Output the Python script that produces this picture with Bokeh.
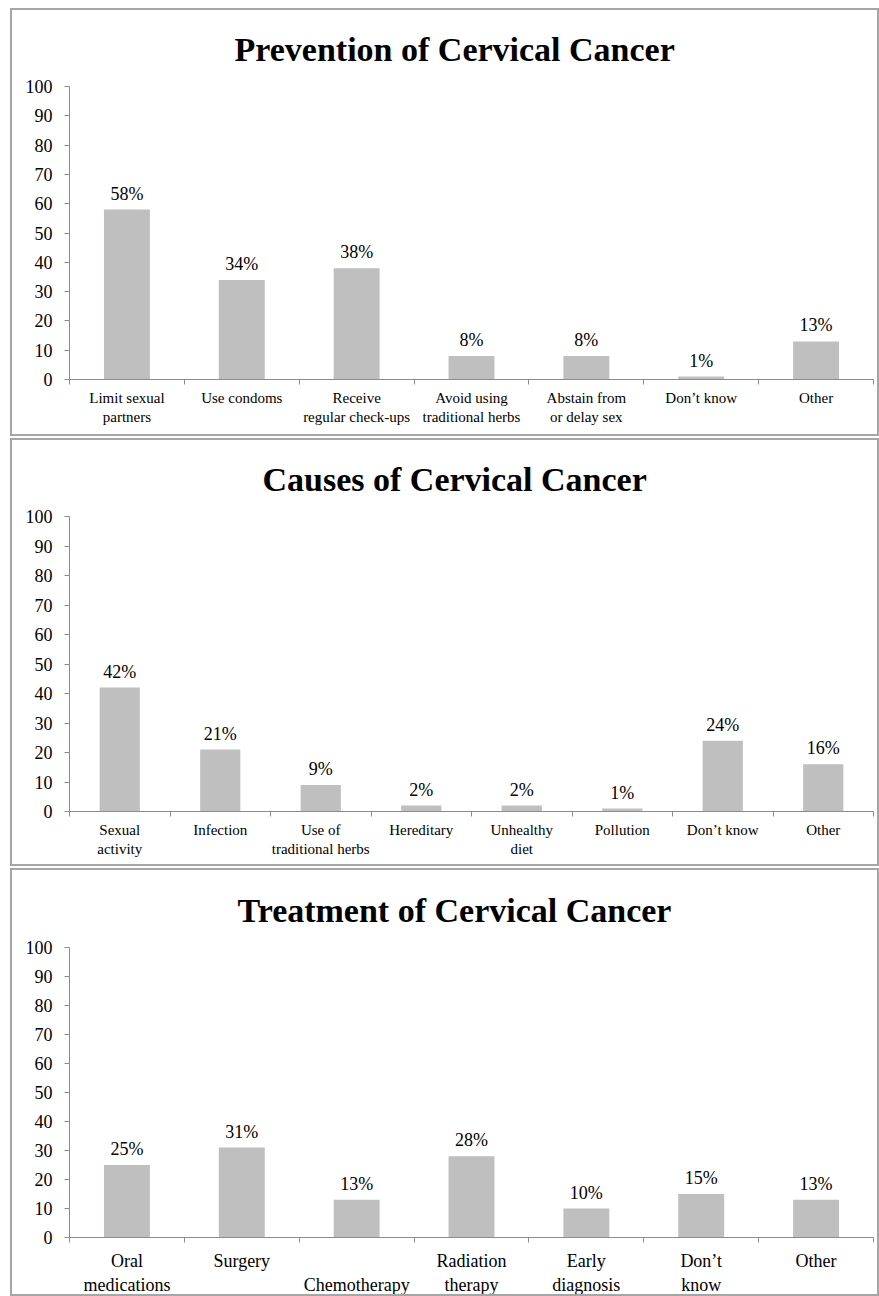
from bokeh.plotting import figure
from bokeh.models import ColumnDataSource, FixedTicker, LabelSet, Range1d
from bokeh.layouts import column
from bokeh.core.properties import value
from bokeh.embed import file_html
from bokeh.resources import INLINE

# ---------------- data ----------------
prev_title = "Prevention of Cervical Cancer"
prev_categories = ["Limit sexual\npartners", "Use condoms", "Receive\nregular check-ups",
                   "Avoid using\ntraditional herbs", "Abstain from\nor delay sex", "Don\u2019t know", "Other"]
prev_values = [58, 34, 38, 8, 8, 1, 13]

cause_title = "Causes of Cervical Cancer"
cause_categories = ["Sexual\nactivity", "Infection", "Use of\ntraditional herbs", "Hereditary",
                    "Unhealthy\ndiet", "Pollution", "Don\u2019t know", "Other"]
cause_values = [42, 21, 9, 2, 2, 1, 24, 16]

treat_title = "Treatment of Cervical Cancer"
treat_categories = ["Oral\nmedications", "Surgery", "\nChemotherapy", "Radiation\ntherapy",
                    "Early\ndiagnosis", "Don\u2019t\nknow", "Other"]
treat_values = [25, 31, 13, 28, 10, 15, 13]

y_ticks = [0, 10, 20, 30, 40, 50, 60, 70, 80, 90, 100]

# ---------------- style ----------------
SERIF = "Liberation Serif"
AXIS = "#8c8c8c"
BAR = "#bfbfbf"
BORDER = "2px solid #a6a6a6"


def make_panel(title, cats, vals, cat_font, cat_standoff, title_offset, height, top, bottom, margin):
    n = len(cats)
    xs = list(range(n))
    src = ColumnDataSource(dict(
        x=xs,
        top=vals,
        lab=[f"{v}%" for v in vals],
    ))
    p = figure(width=869, height=height, x_range=Range1d(-0.5, n - 0.5), y_range=Range1d(0, 100),
               output_backend="svg", toolbar_location=None, title=title,
               min_border_left=57, min_border_right=8, min_border_top=top,
               min_border_bottom=bottom, margin=margin)
    p.styles = {"border": BORDER}
    p.outline_line_color = None
    p.grid.visible = False
    p.background_fill_color = "white"
    p.border_fill_color = "white"

    p.title.text_font = SERIF
    p.title.text_font_size = "34px"
    p.title.text_font_style = "bold"
    p.title.text_color = "black"
    p.title.text_line_height = 0.6
    p.title.align = "left"
    p.title.offset = title_offset
    p.title.standoff = 37

    p.vbar(x="x", top="top", width=0.4, source=src, fill_color=BAR, line_color=None)

    # x axis: labels at category centres, separator ticks at category boundaries
    p.xaxis.ticker = FixedTicker(ticks=xs, minor_ticks=[i - 0.5 for i in range(n + 1)])
    p.xaxis.major_label_overrides = {i: c for i, c in enumerate(cats)}
    p.xaxis.major_label_text_font = SERIF
    p.xaxis.major_label_text_font_size = cat_font
    p.xaxis.major_label_text_color = "black"
    p.xaxis.major_label_standoff = cat_standoff
    p.xaxis.axis_line_color = AXIS
    p.xaxis.major_tick_line_color = None
    p.xaxis.major_tick_in = 0
    p.xaxis.major_tick_out = 0
    p.xaxis.minor_tick_line_color = AXIS
    p.xaxis.minor_tick_in = 0
    p.xaxis.minor_tick_out = 5

    p.yaxis.ticker = FixedTicker(ticks=y_ticks)
    p.yaxis.axis_line_color = AXIS
    p.yaxis.major_tick_line_color = AXIS
    p.yaxis.major_tick_in = 0
    p.yaxis.major_tick_out = 5
    p.yaxis.minor_tick_line_color = None
    p.yaxis.major_label_text_font = SERIF
    p.yaxis.major_label_text_font_size = "18px"
    p.yaxis.major_label_text_color = "black"
    p.yaxis.major_label_standoff = 12

    p.add_layout(LabelSet(x="x", y="top", text="lab", source=src, y_offset=6,
                          text_align="center", text_baseline="bottom",
                          text_font=value(SERIF), text_font_size=value("18px"),
                          text_color="black"))
    return p


p1 = make_panel(prev_title, prev_categories, prev_values, "15px", 5, 165, 428, 73, 59, (8, 0, 0, 10))
p2 = make_panel(cause_title, cause_categories, cause_values, "15px", 5, 193, 428, 74, 57, (2, 0, 0, 10))
p3 = make_panel(treat_title, treat_categories, treat_values, "18px", 8, 168, 428, 77, 61, (2, 0, 0, 10))

layout = column(p1, p2, p3, spacing=0)
open("out.html", "w").write(file_html(layout, INLINE))
